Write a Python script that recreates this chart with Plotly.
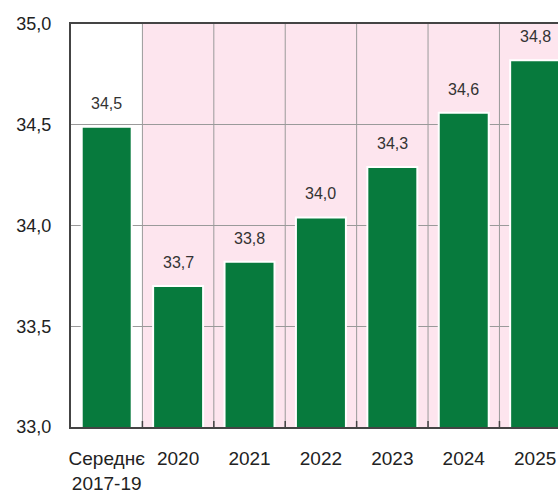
import plotly.graph_objects as go

categories = ["Середнє<br>2017-19", "2020", "2021", "2022", "2023", "2024", "2025"]
values = [34.49, 33.70, 33.82, 34.04, 34.29, 34.56, 34.82]
y_ticks = [33.0, 33.5, 34.0, 34.5, 35.0]
y_tick_labels = ["33,0", "33,5", "34,0", "34,5", "35,0"]

labels = [f"{v:.1f}".replace(".", ",") for v in values]

FONT = "Liberation Sans, Arial, sans-serif"

fig = go.Figure()
fig.add_trace(go.Bar(
    x=list(range(len(categories))), y=values,
    marker=dict(color="#077a3d", line=dict(color="white", width=2)),
    width=0.7,
    hoverinfo="skip",
))

for i, (v, t) in enumerate(zip(values, labels)):
    fig.add_annotation(x=i, y=v, text=t, showarrow=False, yanchor="bottom",
                       yshift=13, font=dict(family=FONT, size=16, color="#333333"))

# pink shaded region
fig.add_shape(type="rect", xref="x", yref="paper", x0=0.5, x1=7, y0=0, y1=1,
              fillcolor="#fde5ee", line=dict(width=0), layer="below")

fig.update_layout(
    width=558, height=499,
    margin=dict(l=71, r=0, t=24, b=72),
    plot_bgcolor="white", paper_bgcolor="white",
    showlegend=False,
    xaxis=dict(
        tickmode="array", tickvals=list(range(len(categories))), ticktext=categories,
        range=[-0.5, 6.32],
        showgrid=False,
        showline=True, linecolor="#444444", linewidth=2, mirror=True,
        ticks="",
        tickfont=dict(family=FONT, size=19, color="#222222"),
        ticklabelstandoff=13,
        zeroline=False,
    ),
    yaxis=dict(
        range=[33.0, 35.0],
        tickvals=y_ticks, ticktext=y_tick_labels,
        showgrid=True, gridcolor="#9a9a9a", gridwidth=1,
        showline=True, linecolor="#444444", linewidth=2,
        ticks="",
        tickfont=dict(family=FONT, size=18, color="#222222"),
        ticklabelstandoff=14,
        zeroline=False,
    ),
)

# vertical grid lines and small inner ticks at category boundaries
for b in [i + 0.5 for i in range(len(categories))]:
    fig.add_shape(type="line", xref="x", yref="paper", x0=b, x1=b, y0=0, y1=1,
                  line=dict(color="#9a9a9a", width=1), layer="below")
    fig.add_shape(type="line", xref="x", yref="y", x0=b, x1=b, y0=33.0, y1=33.03,
                  line=dict(color="#444444", width=1.5), layer="above")

fig.write_html("out.html")
